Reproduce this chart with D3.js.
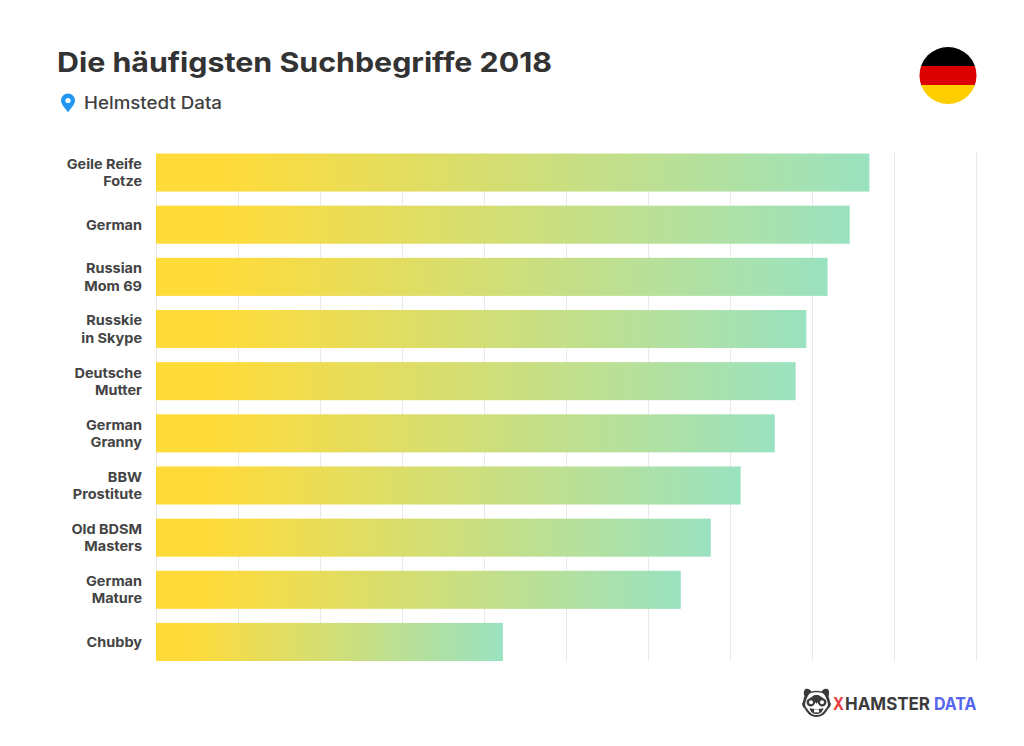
<!DOCTYPE html>
<html lang="de">
<head>
<meta charset="utf-8">
<title>Die häufigsten Suchbegriffe 2018</title>
<script src="https://cdn.jsdelivr.net/npm/d3@7/dist/d3.min.js"></script>
<style>
html,body{margin:0;padding:0;background:#fff;}
svg{display:block;}
text{font-family:Inter,"Open Sans",sans-serif;}
</style>
</head>
<body>
<svg id="chart" width="1024" height="746"></svg>
<script>
const titleText = "Die häufigsten Suchbegriffe 2018";
const placeText = "Helmstedt Data";
const categories = [
  ["Geile Reife","Fotze"],["German"],["Russian","Mom 69"],["Russkie","in Skype"],["Deutsche","Mutter"],
  ["German","Granny"],["BBW","Prostitute"],["Old BDSM","Masters"],["German","Mature"],["Chubby"]
];
const values = [87, 84.6, 81.9, 79.3, 78, 75.45, 71.3, 67.65, 64, 42.3];
const gridTicks = [0,10,20,30,40,50,60,70,80,90,100];

const svg = d3.select("#chart");
const x = d3.scaleLinear().domain([0,100]).range([156,976]);
const y = d3.scaleBand().domain(d3.range(categories.length)).range([153.5,661]).paddingInner(0.27);

// Shared left-to-right fill, stretched over each bar's own length
const grad = svg.append("defs").append("linearGradient").attr("id","barFill")
  .attr("x1",0).attr("x2",1).attr("y1",0).attr("y2",0);
grad.append("stop").attr("offset","10%").attr("stop-color","#ffdb3a");
grad.append("stop").attr("offset","100%").attr("stop-color","#9ae2c0");

// Vertical grid drawn through the axis generator, labels hidden
const axis = d3.axisBottom(x).tickValues(gridTicks).tickSize(-(661-153)).tickFormat("");
const gAxis = svg.append("g").attr("transform","translate(0,661)").call(axis);
gAxis.select(".domain").remove();
gAxis.selectAll("line").attr("stroke","#e9e9e9").attr("stroke-width",1);

svg.append("g").selectAll("rect").data(values).join("rect")
  .attr("x",x(0)).attr("y",(d,i)=>y(i))
  .attr("width",d=>x(d)-x(0)).attr("height",y.bandwidth())
  .attr("fill","url(#barFill)");

// Category labels, right aligned and widened a little from the label edge
const labels = svg.append("g").attr("transform","translate(142,0) scale(1.08,1)")
  .selectAll("text").data(categories).join("text")
  .attr("text-anchor","end").attr("font-size",13.4).attr("font-weight",700).attr("fill","#444444");
labels.each(function(lines,i){
  const cy = y(i)+y.bandwidth()/2;
  const lineH = 17.3;
  const t = d3.select(this);
  lines.forEach((s,k)=>{
    t.append("tspan").attr("x",0)
     .attr("y",cy+5+(k-(lines.length-1)/2)*lineH).text(s);
  });
});

// Heading block
svg.append("text").attr("x",57).attr("y",72).attr("font-size",27.5).attr("font-weight",700)
  .attr("textLength",495).attr("lengthAdjust","spacingAndGlyphs")
  .attr("fill","#333333").text(titleText);
svg.append("text").attr("x",84).attr("y",109).attr("font-size",17).attr("font-weight",500)
  .attr("textLength",138).attr("lengthAdjust","spacingAndGlyphs")
  .attr("fill","#3f3f3f").text(placeText);

// Location pin
const pin = svg.append("g").attr("transform","translate(68,103)");
pin.append("path").attr("fill","#2196f3")
  .attr("d","M0,9.5 C-1.5,6.5 -7,2 -7,-2.5 A7,7 0 0 1 7,-2.5 C7,2 1.5,6.5 0,9.5 Z");
pin.append("circle").attr("cy",-2.5).attr("r",2.6).attr("fill","#fff");

// Round flag
const flagColours = ["#000000","#dd0000","#ffce00"];
const clip = svg.select("defs").append("clipPath").attr("id","flagClip");
clip.append("circle").attr("cx",948).attr("cy",75.5).attr("r",28.5);
const flagY = d3.scaleBand().domain(d3.range(3)).range([47,104]);
svg.append("g").attr("clip-path","url(#flagClip)").selectAll("rect").data(flagColours).join("rect")
  .attr("x",919).attr("width",58).attr("y",(d,i)=>flagY(i)).attr("height",flagY.bandwidth()).attr("fill",d=>d);

// Brand mark: hamster head with dark mask and toothy grin
const ink = "#3a3a3a";
const logo = svg.append("g").attr("transform","translate(816.5,703)");
logo.append("path").attr("fill",ink)
  .attr("d","M-11,-14 C-8,-15 -6,-13 -5,-11.5 C-2,-12.5 2,-12.5 5,-11.5 C6,-13 8,-15 11,-14 C13,-13 13,-9 12,-7 C13,-4 13,-2 14.5,1 C14,3 13,5 11.5,6 C9,11 5,14 0,14 C-5,14 -9,11 -11.5,6 C-13,5 -14,3 -14.5,1 C-13,-2 -13,-4 -12,-7 C-13,-9 -13,-13 -11,-14 Z");
logo.append("path").attr("fill","#fff")
  .attr("d","M-6,-10 C-3,-11 3,-11 6,-10 C9,-8 10,-4 11,-1 C12,2 11,4 9,6 C6,11 3,12 0,12 C-3,12 -6,11 -9,6 C-11,4 -12,2 -11,-1 C-10,-4 -9,-8 -6,-10 Z");
// mask: two slanted patches meeting above the nose
logo.append("path").attr("fill",ink)
  .attr("d","M0,-8 L2,-8 L9.5,-3 C10.5,0 9.5,3 6,3.5 C3,3.5 1.5,1 1,-1 L0,1 L-1,-1 C-1.5,1 -3,3.5 -6,3.5 C-9.5,3 -10.5,0 -9.5,-3 L-2,-8 Z");
logo.append("circle").attr("cx",-5.5).attr("cy",-0.8).attr("r",2).attr("fill","#fff");
logo.append("circle").attr("cx",5.5).attr("cy",-0.8).attr("r",2).attr("fill","#fff");
logo.append("path").attr("fill",ink).attr("d","M-7,5 C-3,6.5 3,6.5 7,5 C6,9.5 3,11 0,11 C-3,11 -6,9.5 -7,5 Z");
logo.append("rect").attr("x",-2.5).attr("y",6.4).attr("width",5).attr("height",3).attr("fill","#fff");

// Brand wordmark, fitted piece by piece
const wordParts = [
  {t:"X", x:833, w:11, c:"#e8403f"},
  {t:"HAMSTER", x:845, w:85, c:"#3c3c3c"},
  {t:"DATA", x:934, w:42.5, c:"#5566ee"}
];
svg.append("g").selectAll("text").data(wordParts).join("text")
  .attr("x",d=>d.x).attr("y",709.5).attr("font-size",17.8).attr("font-weight",700)
  .attr("font-family","'Open Sans',sans-serif")
  .attr("textLength",d=>d.w).attr("lengthAdjust","spacingAndGlyphs")
  .attr("fill",d=>d.c).text(d=>d.t);
</script>
</body>
</html>
